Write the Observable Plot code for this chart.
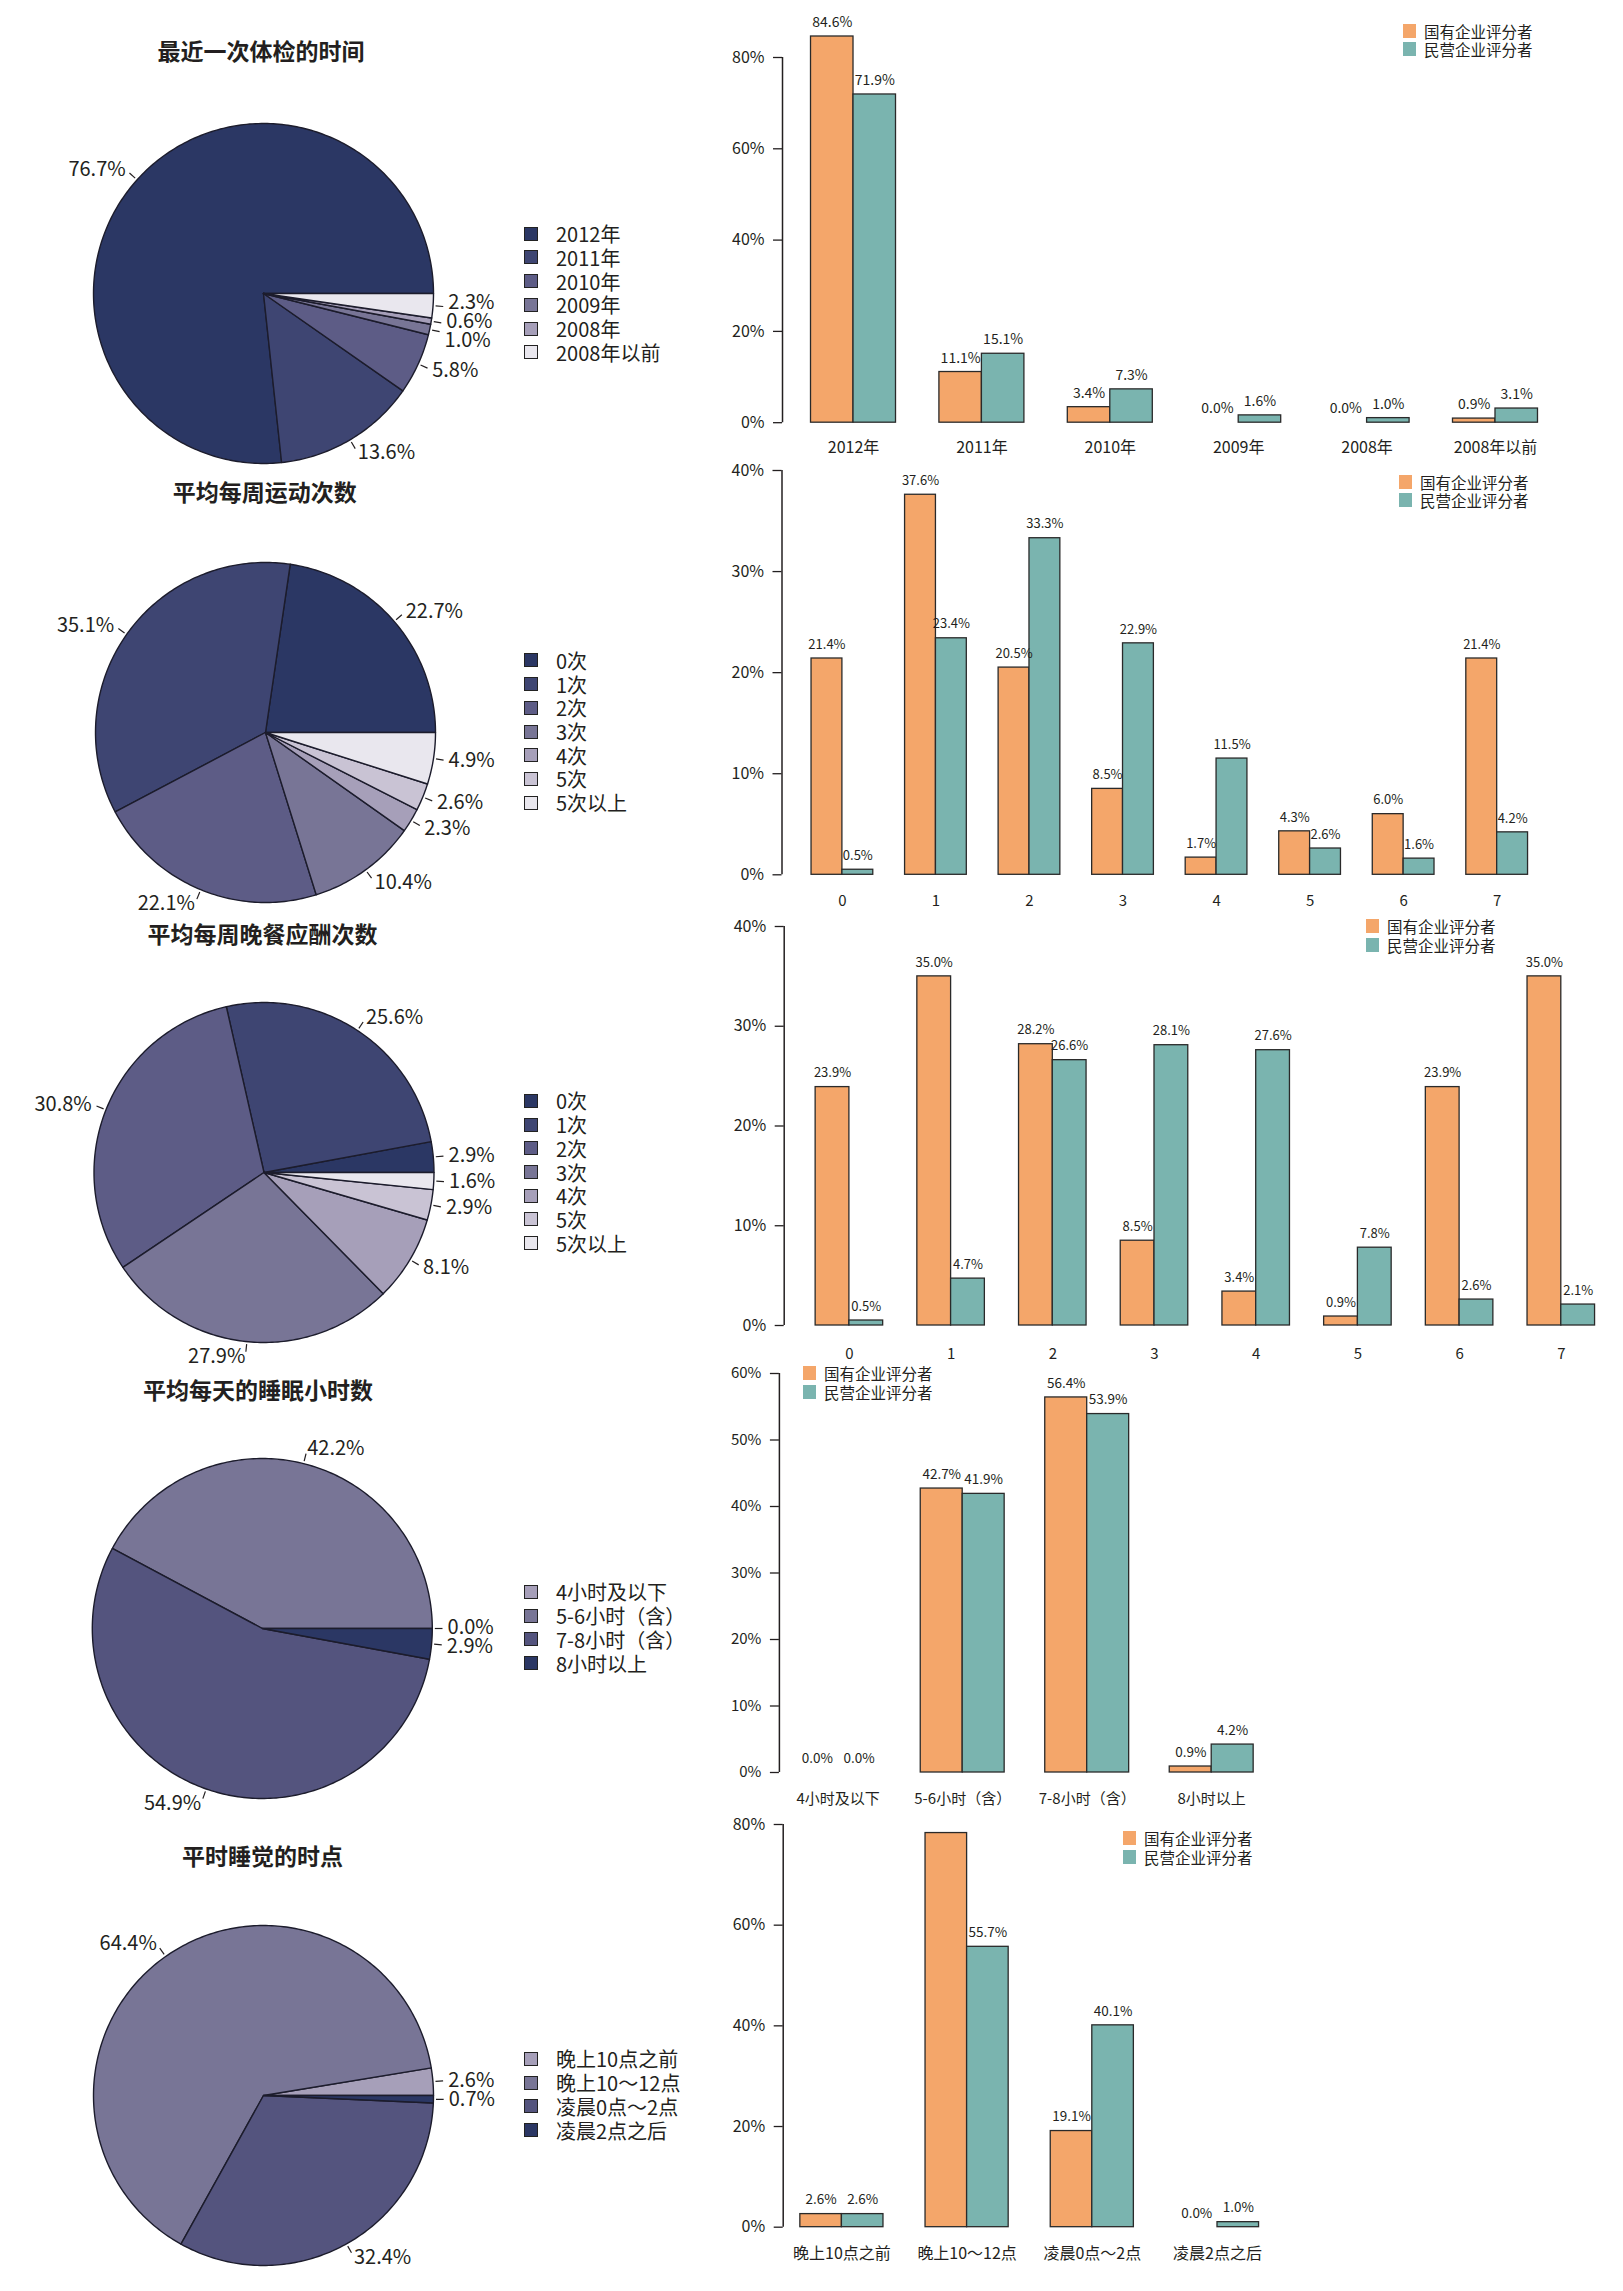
<!DOCTYPE html>
<html>
<head>
<meta charset="utf-8">
<script src="https://cdn.jsdelivr.net/npm/d3@7"></script>
<script src="https://cdn.jsdelivr.net/npm/@observablehq/plot@0.6"></script>
<style>
  html, body { margin: 0; padding: 0; background: #fff; }
  #page { position: relative; width: 1623px; height: 2291px; overflow: hidden; background: #fff;
          font-family: "Noto Sans CJK SC", "Noto Sans", sans-serif; color: #231f20; }
  .ptitle { position: absolute; width: 420px; text-align: center; font-weight: 700; font-size: 23px; line-height: 30px; white-space: nowrap; }
  .pleg-row { position: absolute; display: flex; align-items: center; font-size: 20px; line-height: 21px; height: 21px; white-space: nowrap; }
  .pleg-sw { width: 12px; height: 12px; border: 1.5px solid #222; margin-right: 18px; flex: none; }
  .bleg-row { position: absolute; display: flex; align-items: center; font-size: 15.5px; line-height: 16px; height: 16px; white-space: nowrap; }
  .bleg-sw { width: 13px; height: 14px; margin-right: 8px; flex: none; }
  svg { position: absolute; }
</style>
</head>
<body>
<div id="page"></div>
<script>
// ---------------- DATA ----------------
const seriesNames = ["国有企业评分者", "民营企业评分者"];

// 1. 最近一次体检的时间
const checkupTitle = "最近一次体检的时间";
const checkupCats = ["2012年", "2011年", "2010年", "2009年", "2008年", "2008年以前"];
const checkupShares = [76.7, 13.6, 5.8, 1.0, 0.6, 2.3];
const checkupState = [84.6, 11.1, 3.4, 0.0, 0.0, 0.9];
const checkupPrivate = [71.9, 15.1, 7.3, 1.6, 1.0, 3.1];
const checkupYTicks = [0, 20, 40, 60, 80];

// 2. 平均每周运动次数
const exerciseTitle = "平均每周运动次数";
const exerciseCats = ["0次", "1次", "2次", "3次", "4次", "5次", "5次以上"];
const exerciseShares = [22.7, 35.1, 22.1, 10.4, 2.3, 2.6, 4.9];
const exerciseBarCats = ["0", "1", "2", "3", "4", "5", "6", "7"];
const exerciseState = [21.4, 37.6, 20.5, 8.5, 1.7, 4.3, 6.0, 21.4];
const exercisePrivate = [0.5, 23.4, 33.3, 22.9, 11.5, 2.6, 1.6, 4.2];
const exerciseYTicks = [0, 10, 20, 30, 40];

// 3. 平均每周晚餐应酬次数
const dinnerTitle = "平均每周晚餐应酬次数";
const dinnerCats = ["0次", "1次", "2次", "3次", "4次", "5次", "5次以上"];
const dinnerShares = [2.9, 25.6, 30.8, 27.9, 8.1, 2.9, 1.6];
const dinnerBarCats = ["0", "1", "2", "3", "4", "5", "6", "7"];
const dinnerState = [23.9, 35.0, 28.2, 8.5, 3.4, 0.9, 23.9, 35.0];
const dinnerPrivate = [0.5, 4.7, 26.6, 28.1, 27.6, 7.8, 2.6, 2.1];
const dinnerYTicks = [0, 10, 20, 30, 40];

// 4. 平均每天的睡眠小时数
const sleepTitle = "平均每天的睡眠小时数";
const sleepCats = ["4小时及以下", "5-6小时（含）", "7-8小时（含）", "8小时以上"];
const sleepShares = [0.0, 42.2, 54.9, 2.9];
const sleepState = [0.0, 42.7, 56.4, 0.9];
const sleepPrivate = [0.0, 41.9, 53.9, 4.2];
const sleepYTicks = [0, 10, 20, 30, 40, 50, 60];

// 5. 平时睡觉的时点
const bedTitle = "平时睡觉的时点";
const bedCats = ["晚上10点之前", "晚上10～12点", "凌晨0点～2点", "凌晨2点之后"];
const bedShares = [2.6, 64.4, 32.4, 0.7];
const bedState = [2.6, 78.3, 19.1, 0.0];
const bedPrivate = [2.6, 55.7, 40.1, 1.0];
const bedStateLabelled = [true, false, true, true];
const bedYTicks = [0, 20, 40, 60, 80];

// ---------------- STYLE ----------------
const FONT = '"Noto Sans CJK SC", "Noto Sans", sans-serif';
const TEXT = "#231f20";
const seriesColors = ["#f4a66a", "#7ab4af"];
const navy = ["#2b3764", "#3e4572", "#5d5c86", "#787596", "#a69fb9", "#c9c3d4", "#e9e7ee"];
const pal1 = [navy[0], navy[1], navy[2], navy[3], navy[4], navy[6]];
const pal7 = navy;
const pal4 = ["#a69fb9", "#787596", "#54547e", "#2b3764"];

const page = document.getElementById("page");

// spread label positions (screen px, ascending) so that they keep a minimum gap
function spread(items, gap) {
  let cl = items.map(it => ({m: [it]}));
  const start = c => d3.mean(c.m, (it, j) => it.y0 - j * gap);
  let merged = true;
  while (merged) {
    merged = false;
    for (let k = 0; k < cl.length - 1; k++) {
      const a = cl[k], b = cl[k + 1];
      if (start(a) + a.m.length * gap > start(b) + 1e-9) {
        cl.splice(k, 2, {m: a.m.concat(b.m)});
        merged = true;
        break;
      }
    }
  }
  cl.forEach(c => { const s = start(c); c.m.forEach((it, j) => { it.y = s + j * gap; }); });
}

function drawPie(title, cats, shares, colors, L) {
  const R = L.r, W = 720, H = 460;
  const total = d3.sum(shares);
  const ends = Array.from(d3.cumsum(shares));
  const rt = 1.09;
  const slices = shares.map((v, i) => {
    const a0 = (ends[i] - v) / total * 2 * Math.PI;
    const a1 = ends[i] / total * 2 * Math.PI;
    const n = Math.max(1, Math.ceil((a1 - a0) / (Math.PI / 180)));
    const pts = [{x: 0, y: 0}].concat(d3.range(n + 1).map(k => {
      const t = a0 + (a1 - a0) * k / n;
      return {x: Math.cos(t), y: Math.sin(t)};
    }));
    const mid = (a0 + a1) / 2;
    return {v, color: colors[i], pts, mid, lx: Math.cos(mid) * rt, y0: -Math.sin(mid) * rt * R};
  });
  const right = slices.filter(s => Math.cos(s.mid) >= -1e-9).sort((a, b) => a.y0 - b.y0);
  const left = slices.filter(s => Math.cos(s.mid) < -1e-9).sort((a, b) => a.y0 - b.y0);
  spread(right, 19);
  spread(left, 19);
  const svg = Plot.plot({
    width: W, height: H, margin: 0,
    x: {domain: [-L.cx / R, (W - L.cx) / R], axis: null},
    y: {domain: [-(H / 2) / R, (H / 2) / R], axis: null},
    style: {background: "none", overflow: "visible", fontFamily: FONT, fontSize: "20px", color: TEXT},
    marks: [
      ...slices.map(s => Plot.line(s.pts, {x: "x", y: "y", fill: s.color, stroke: "#1c1c2c", strokeWidth: 1.4, curve: "linear-closed"})),
      Plot.link(slices, {
        x1: d => Math.cos(d.mid) * 1.015, y1: d => Math.sin(d.mid) * 1.015,
        x2: d => Math.cos(d.mid) * 1.06, y2: d => Math.sin(d.mid) * 1.06,
        stroke: TEXT, strokeWidth: 1.2
      }),
      Plot.text(right, {x: "lx", y: d => -d.y / R, text: d => d.v.toFixed(1) + "%", textAnchor: "start", fill: TEXT, fontSize: 20}),
      Plot.text(left, {x: "lx", y: d => -d.y / R, text: d => d.v.toFixed(1) + "%", textAnchor: "end", fill: TEXT, fontSize: 20})
    ]
  });
  svg.style.left = "0px";
  svg.style.top = (L.cy - H / 2) + "px";
  page.appendChild(svg);

  const t = document.createElement("div");
  t.className = "ptitle";
  t.textContent = title;
  t.style.left = (L.tx - 210) + "px";
  t.style.top = (L.ty - 15) + "px";
  page.appendChild(t);

  const sp = 23.7;
  cats.forEach((c, i) => {
    const row = document.createElement("div");
    row.className = "pleg-row";
    const yc = L.cy + (i - (cats.length - 1) / 2) * sp;
    row.style.left = "524px";
    row.style.top = (yc - 10.5) + "px";
    const sw = document.createElement("span");
    sw.className = "pleg-sw";
    sw.style.background = colors[i];
    row.appendChild(sw);
    row.appendChild(document.createTextNode(c));
    page.appendChild(row);
  });
}

function drawBars(cats, state, priv, labelled, yTicks, L) {
  const left = 700, W = 923;
  const top = L.yTop - 40;
  const H = (L.yZero + 55) - top;
  const xd = [(L.axisX - L.c0) / L.step, (left + W - L.c0) / L.step];
  const w = L.w;
  const yMax = yTicks[yTicks.length - 1];
  const rows = cats.map((c, i) => ({i, s: state[i], p: priv[i], show: labelled ? labelled[i] : true}));
  const svg = Plot.plot({
    width: W, height: H,
    marginLeft: L.axisX - left, marginRight: 0, marginTop: 40, marginBottom: 55,
    x: {domain: xd, label: null},
    y: {domain: [0, yMax], label: null},
    style: {background: "none", overflow: "visible", fontFamily: FONT, fontSize: L.tickFont + "px", color: TEXT},
    marks: [
      Plot.rect(rows, {x1: d => d.i - w, x2: d => d.i, y1: 0, y2: "s", fill: seriesColors[0], stroke: "#2a2a2a", strokeWidth: 1.3, inset: 0}),
      Plot.rect(rows, {x1: d => d.i, x2: d => d.i + w, y1: 0, y2: "p", fill: seriesColors[1], stroke: "#2a2a2a", strokeWidth: 1.3, inset: 0}),
      Plot.text(rows.filter(d => d.show), {x: d => d.i - w / 2, y: "s", text: d => d.s.toFixed(1) + "%", dy: -14, fontSize: L.labelFont, fill: TEXT}),
      Plot.text(rows, {x: d => d.i + w / 2, y: "p", text: d => d.p.toFixed(1) + "%", dy: -14, fontSize: L.labelFont, fill: TEXT}),
      Plot.ruleX([xd[0]], {y1: 0, y2: yMax, stroke: TEXT, strokeWidth: 1.5}),
      Plot.axisY(yTicks, {tickSize: 9, tickPadding: 9, tickFormat: d => d + "%", fontSize: L.tickFont, strokeWidth: 1.3}),
      Plot.axisX(d3.range(cats.length), {tickSize: 0, tickPadding: L.xPad, tickFormat: i => cats[i], fontSize: L.xFont})
    ]
  });
  svg.style.left = left + "px";
  svg.style.top = top + "px";
  page.appendChild(svg);

  seriesNames.forEach((name, k) => {
    const row = document.createElement("div");
    row.className = "bleg-row";
    row.style.left = L.legX + "px";
    row.style.top = (L.legY[k] - 8) + "px";
    const sw = document.createElement("span");
    sw.className = "bleg-sw";
    sw.style.background = seriesColors[k];
    row.appendChild(sw);
    row.appendChild(document.createTextNode(name));
    page.appendChild(row);
  });
}

// ---------------- LAYOUT ----------------
drawPie(checkupTitle, checkupCats, checkupShares, pal1, {cx: 263, cy: 293, r: 170, tx: 261, ty: 50});
drawPie(exerciseTitle, exerciseCats, exerciseShares, pal7, {cx: 265, cy: 731.5, r: 170, tx: 264.7, ty: 490.7});
drawPie(dinnerTitle, dinnerCats, dinnerShares, pal7, {cx: 263.5, cy: 1172, r: 170, tx: 262.5, ty: 933});
drawPie(sleepTitle, sleepCats, sleepShares, pal4, {cx: 261.8, cy: 1627.5, r: 170, tx: 258, ty: 1389.3});
drawPie(bedTitle, bedCats, bedShares, pal4, {cx: 263, cy: 2094.5, r: 170, tx: 262.5, ty: 1855});

drawBars(checkupCats, checkupState, checkupPrivate, null, checkupYTicks,
  {axisX: 782, c0: 853, step: 128.4, yTop: 57, yZero: 422.2, w: 0.331, labelFont: 14, tickFont: 16, xFont: 16, xPad: 19, legX: 1403, legY: [30.7, 49.3]});
drawBars(exerciseBarCats, exerciseState, exercisePrivate, null, exerciseYTicks,
  {axisX: 781.5, c0: 841.9, step: 93.54, yTop: 470, yZero: 874.3, w: 0.33, labelFont: 13, tickFont: 16, xFont: 15, xPad: 21, legX: 1399, legY: [481.7, 500]});
drawBars(dinnerBarCats, dinnerState, dinnerPrivate, null, dinnerYTicks,
  {axisX: 783.7, c0: 848.9, step: 101.7, yTop: 925.7, yZero: 1324.7, w: 0.332, labelFont: 13, tickFont: 16, xFont: 15, xPad: 23, legX: 1366, legY: [926.3, 944.7]});
drawBars(sleepCats, sleepState, sleepPrivate, null, sleepYTicks,
  {axisX: 778.9, c0: 837.7, step: 124.5, yTop: 1372.7, yZero: 1771.7, w: 0.337, labelFont: 13.5, tickFont: 15, xFont: 15, xPad: 21, legX: 803, legY: [1372.7, 1392]});
drawBars(bedCats, bedState, bedPrivate, bedStateLabelled, bedYTicks,
  {axisX: 782.7, c0: 841.4, step: 125.2, yTop: 1824, yZero: 2226.7, w: 0.332, labelFont: 13.5, tickFont: 16, xFont: 16, xPad: 20, legX: 1123, legY: [1838.3, 1857.3]});
</script>
</body>
</html>
